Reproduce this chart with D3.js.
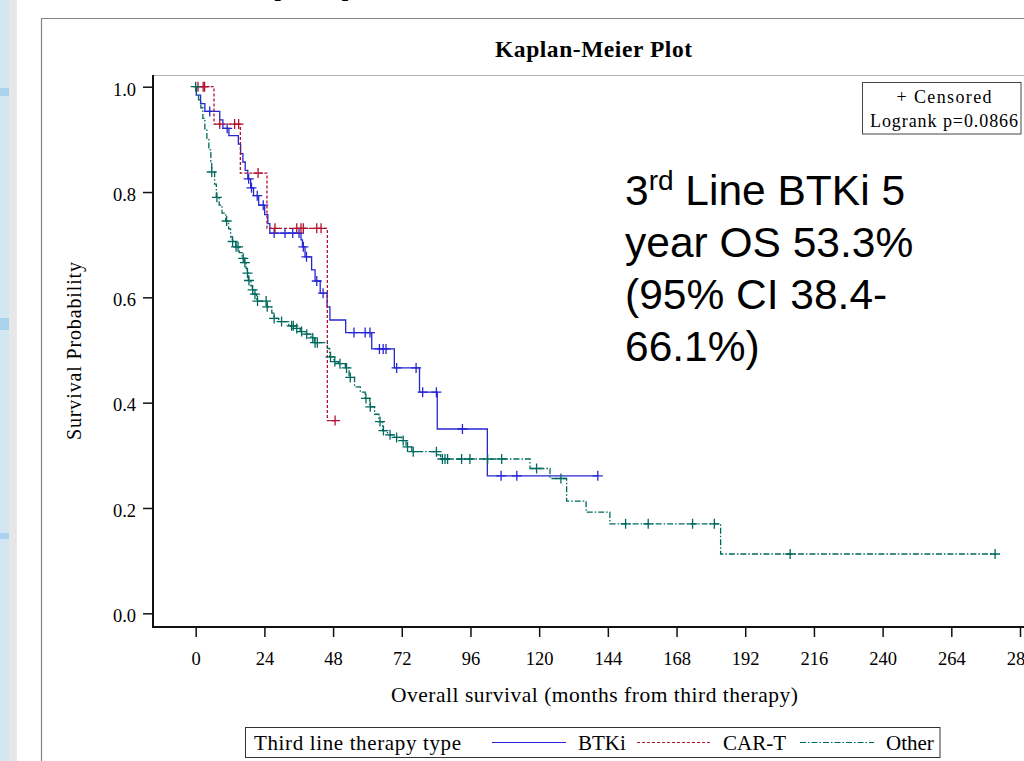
<!DOCTYPE html>
<html>
<head>
<meta charset="utf-8">
<title>Kaplan-Meier Plot</title>
<script src="https://cdn.jsdelivr.net/npm/d3@7"></script>
<style>
  html, body { margin:0; padding:0; background:#fff; }
  #chart { width:1024px; height:761px; overflow:hidden; }
  svg { display:block; }
</style>
</head>
<body>
<div id="chart"></div>
<script>
// Kaplan-Meier plot — OS from third line therapy, by therapy type
// values (months, survival probability)

const seriesNames = ['BTKi', 'CAR-T', 'Other'];

// BTKi: event times / survival after each step / censor times
const btkiTimes = [0.2, 1.7, 3.2, 8.4, 9.5, 11.6, 14.9, 15.7, 16.5, 17.3, 18.2, 19.2, 20.2, 22.0, 24.1, 25.2, 25.9,
  36.8, 37.3, 38.2, 40.5, 41.7, 43.5, 45.9, 46.9, 52.4, 61.5, 69.4, 78.2, 84.4, 101.9];
const btkiSurv = [0.984, 0.968, 0.953, 0.937, 0.921, 0.907, 0.891, 0.873, 0.857, 0.841, 0.825, 0.808, 0.793, 0.775, 0.757, 0.740, 0.722,
  0.709, 0.696, 0.677, 0.652, 0.631, 0.608, 0.582, 0.557, 0.533, 0.502, 0.466, 0.420, 0.350, 0.261];
const btkiCensor = [4.9, 11.0, 18.5, 19.5, 21.5, 23.6, 27.4, 31.2, 33.9, 36.1, 37.6, 38.7, 42.3, 44.5, 55.3, 59.2, 60.9,
  64.2, 65.5, 66.5, 70.2, 77.0, 79.3, 84.1, 93.2, 106.7, 112.2, 140.5];

// CAR-T
const cartTimes = [6.4, 15.6, 24.9, 46.0];
const cartSurv = [0.929, 0.836, 0.731, 0.366];
const cartCensor = [0.8, 2.6, 3.1, 8.4, 13.6, 15.0, 21.8, 27.7, 35.3, 36.8, 37.6, 42.3, 43.8, 48.7];

// Other
const otherTimes = [0.3, 1.0, 1.8, 2.5, 3.2, 3.9, 4.6, 5.3, 5.6, 6.6, 7.2, 8.2, 9.2, 10.5, 11.5, 12.2, 12.8, 14.0, 15.2, 16.2,
  17.0, 17.6, 18.0, 18.4, 19.3, 19.8, 20.4, 21.3, 24.9, 26.6, 27.3, 29.0, 32.5, 34.8, 36.5, 38.2, 40.3, 41.5, 46.0, 46.8,
  48.3, 49.8, 52.3, 53.6, 55.5, 57.5, 59.2, 60.8, 62.5, 64.0, 65.3, 67.0, 69.5, 72.0, 73.5, 75.5, 84.6, 85.6, 116.8, 123.8,
  129.6, 136.4, 144.7, 183.4];
const otherSurv = [0.985, 0.975, 0.960, 0.940, 0.920, 0.900, 0.880, 0.858, 0.838, 0.815, 0.790, 0.775, 0.760, 0.745, 0.730, 0.715, 0.706, 0.696, 0.685, 0.674,
  0.666, 0.655, 0.646, 0.632, 0.622, 0.614, 0.606, 0.593, 0.582, 0.570, 0.560, 0.554, 0.546, 0.541, 0.535, 0.530, 0.523, 0.514, 0.503, 0.487,
  0.478, 0.474, 0.466, 0.448, 0.430, 0.420, 0.408, 0.392, 0.378, 0.364, 0.347, 0.339, 0.334, 0.328, 0.316, 0.307, 0.301, 0.293, 0.275, 0.256,
  0.213, 0.192, 0.170, 0.1126];
const otherCensor = [0, 5.6, 7.4, 10.8, 12.9, 14.1, 14.8, 16.6, 17.2, 18.1, 18.6, 19.9, 20.7, 21.6, 24.6, 25.0, 27.4, 30.0, 33.5, 34.1,
  35.3, 37.0, 38.8, 40.9, 41.7, 42.5, 47.1, 48.6, 50.4, 52.7, 54.0, 59.5, 61.0, 64.4, 65.6, 67.9, 70.2, 72.5, 74.0, 76.0,
  84.1, 86.2, 87.1, 88.0, 92.9, 95.8, 102.0, 106.9, 119.1, 127.6, 150.2, 158.1, 173.6, 181.2, 207.7, 279.3];

const xTicks = [0, 24, 48, 72, 96, 120, 144, 168, 192, 216, 240, 264, 288];
const yTicks = [0, 0.2, 0.4, 0.6, 0.8, 1.0];

// styles per series (kept apart from the data)
const seriesStyle = {
  'BTKi':  { color: '#2626d4', dash: null },
  'CAR-T': { color: '#b0122e', dash: '3,2' },
  'Other': { color: '#00695e', dash: '6,2,1.5,2' }
};

const series = [
  { name: 'BTKi',  times: btkiTimes,  surv: btkiSurv,  censor: btkiCensor },
  { name: 'CAR-T', times: cartTimes,  surv: cartSurv,  censor: cartCensor },
  { name: 'Other', times: otherTimes, surv: otherSurv, censor: otherCensor }
];

const SERIF = '"Liberation Serif","Times New Roman",serif';
const SANS = '"Liberation Sans",Arial,sans-serif';

const W = 1024, H = 761;
const svg = d3.select('#chart').append('svg').attr('width', W).attr('height', H);

// ---- slide background bits (left strip + frame) ----
svg.append('rect').attr('x', 0).attr('y', 0).attr('width', 9).attr('height', H).attr('fill', '#d3e7f3');
svg.append('rect').attr('x', 9).attr('y', 0).attr('width', 8).attr('height', H).attr('fill', '#e7e7e7');
[[88, 8], [318, 12], [533, 6]].forEach(([yy, hh]) => {
  svg.append('rect').attr('x', 0).attr('y', yy).attr('width', 9).attr('height', hh).attr('fill', '#a9d2ec');
});
// slide heading, only the bottom of it shows at the top edge
svg.append('text').attr('x', 267).attr('y', -8).attr('font-family', SANS).attr('font-weight', 'bold')
  .attr('font-size', 42).attr('fill', '#000').text('(OS)');

// image frame
svg.append('path').attr('d', `M41.5,${H} V18.5 H${W}`).attr('fill', 'none').attr('stroke', '#858585').attr('stroke-width', 1.2);

// ---- scales ----
const x = d3.scaleLinear().domain([0, 288]).range([195.7, 1020]);
const y = d3.scaleLinear().domain([0, 1]).range([613.3, 86.7]);

const plotLeft = 153, plotTop = 75, plotBottom = 627;

// plot box: light top line, heavy axis lines
svg.append('line').attr('x1', plotLeft).attr('x2', W).attr('y1', plotTop + 0.5).attr('y2', plotTop + 0.5)
  .attr('stroke', '#b4b4b4').attr('stroke-width', 1);
svg.append('line').attr('x1', plotLeft).attr('x2', plotLeft).attr('y1', plotTop).attr('y2', plotBottom + 1)
  .attr('stroke', '#111').attr('stroke-width', 2);
svg.append('line').attr('x1', plotLeft - 1).attr('x2', W).attr('y1', plotBottom).attr('y2', plotBottom)
  .attr('stroke', '#111').attr('stroke-width', 2);

// axes
const xAxis = svg.append('g').attr('transform', `translate(0,${plotBottom})`)
  .call(d3.axisBottom(x).tickValues(xTicks).tickSize(10).tickPadding(15).tickFormat(d3.format('d')));
const yAxis = svg.append('g').attr('transform', `translate(${plotLeft},0)`)
  .call(d3.axisLeft(y).tickValues(yTicks).tickSize(10).tickPadding(7).tickFormat(d3.format('.1f')));
[xAxis, yAxis].forEach(a => {
  a.select('.domain').remove();
  a.selectAll('.tick line').attr('stroke', '#111').attr('stroke-width', 1.5);
  a.selectAll('.tick text').attr('font-family', SERIF).attr('font-size', 18.5).attr('fill', '#000');
});
yAxis.selectAll('.tick text').attr('dy', '0.45em');

// titles
svg.append('text').attr('x', 593.5).attr('y', 57).attr('text-anchor', 'middle')
  .attr('font-family', SERIF).attr('font-weight', 'bold').attr('font-size', 23.5)
  .attr('textLength', 197).attr('lengthAdjust', 'spacing').text('Kaplan-Meier Plot');

svg.append('text').attr('x', 594.5).attr('y', 702).attr('text-anchor', 'middle')
  .attr('font-family', SERIF).attr('font-size', 21.5)
  .attr('textLength', 407).attr('lengthAdjust', 'spacing').text('Overall survival (months from third therapy)');

svg.append('text').attr('transform', 'translate(81,351) rotate(-90)').attr('text-anchor', 'middle')
  .attr('font-family', SERIF).attr('font-size', 20)
  .attr('textLength', 178).attr('lengthAdjust', 'spacing').text('Survival Probability');

// ---- curves ----
function stepPoints(s){
  const pts = [[0, 1]];
  s.times.forEach((t, i) => pts.push([t, s.surv[i]]));
  const end = Math.max(d3.max(s.censor), d3.max(s.times));
  pts.push([end, s.surv[s.surv.length - 1]]);
  return pts;
}
// survival value at time t (step function, right-continuous)
function survAt(s, t){
  let v = 1;
  s.times.forEach((tt, i) => { if(tt <= t) v = s.surv[i]; });
  return v;
}

const line = d3.line().x(d => x(d[0])).y(d => y(d[1])).curve(d3.curveStepAfter);
const curves = svg.append('g');

series.forEach(s => {
  const st = seriesStyle[s.name];
  curves.append('path').datum(stepPoints(s))
    .attr('d', line).attr('fill', 'none').attr('stroke', st.color)
    .attr('stroke-width', 1.3).attr('stroke-dasharray', st.dash);

  const m = 5;
  curves.append('g').selectAll('path').data(s.censor).join('path')
    .attr('d', t => {
      const cx = x(t), cy = y(survAt(s, t));
      return `M${cx - m},${cy}H${cx + m}M${cx},${cy - m}V${cy + m}`;
    })
    .attr('stroke', st.color).attr('stroke-width', 1.3).attr('fill', 'none');
});

// ---- censored / logrank box ----
const box = svg.append('g');
box.append('rect').attr('x', 862.5).attr('y', 82.5).attr('width', 158.5).attr('height', 51.5)
  .attr('fill', '#fff').attr('stroke', '#444').attr('stroke-width', 1);
box.append('text').attr('x', 944).attr('y', 103).attr('text-anchor', 'middle')
  .attr('font-family', SERIF).attr('font-size', 18)
  .attr('textLength', 95).attr('lengthAdjust', 'spacing').text('+ Censored');
box.append('text').attr('x', 944).attr('y', 127).attr('text-anchor', 'middle')
  .attr('font-family', SERIF).attr('font-size', 18)
  .attr('textLength', 148).attr('lengthAdjust', 'spacing').text('Logrank p=0.0866');

// ---- annotation ----
const note = svg.append('text').attr('font-family', SANS).attr('font-size', 42.5).attr('fill', '#000');
const l1 = note.append('tspan').attr('x', 625).attr('y', 205);
l1.append('tspan').text('3');
l1.append('tspan').attr('font-size', 28).attr('dy', -15).text('rd');
l1.append('tspan').attr('dy', 15).text(' Line BTKi 5');
note.append('tspan').attr('x', 625).attr('y', 257).text('year OS 53.3%');
note.append('tspan').attr('x', 625).attr('y', 309).text('(95% CI 38.4-');
note.append('tspan').attr('x', 625).attr('y', 361).text('66.1%)');

// ---- legend ----
const leg = svg.append('g');
leg.append('rect').attr('x', 245.5).attr('y', 727.5).attr('width', 694.5).attr('height', 30)
  .attr('fill', '#fff').attr('stroke', '#333').attr('stroke-width', 1);
leg.append('text').attr('x', 254).attr('y', 750).attr('font-family', SERIF).attr('font-size', 21)
  .attr('textLength', 207).attr('lengthAdjust', 'spacing').text('Third line therapy type');

const legX = [492, 637, 800];
seriesNames.forEach((n, i) => {
  const st = seriesStyle[n];
  leg.append('line').attr('x1', legX[i]).attr('x2', legX[i] + 74).attr('y1', 742.5).attr('y2', 742.5)
    .attr('stroke', st.color).attr('stroke-width', 1.1).attr('stroke-dasharray', st.dash);
  leg.append('text').attr('x', legX[i] + 86).attr('y', 750).attr('font-family', SERIF).attr('font-size', 21).text(n);
});
</script>
</body>
</html>
